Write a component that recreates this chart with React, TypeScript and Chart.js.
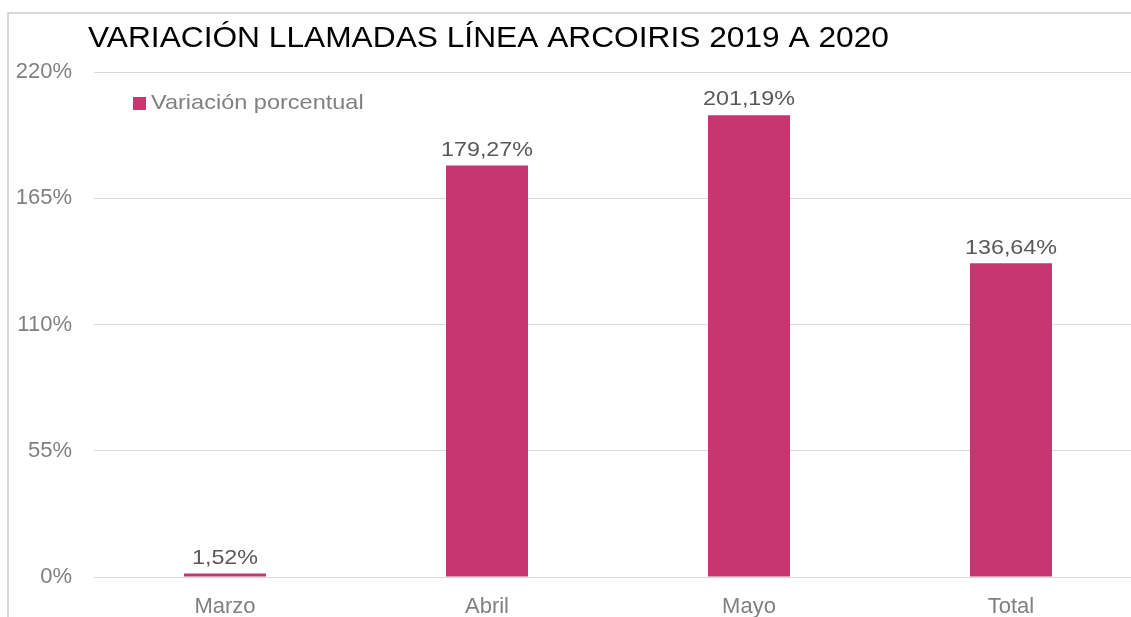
import React, { useEffect, useRef } from "react";
import { Chart, registerables } from "chart.js";

Chart.register(...registerables);

const titleText = "VARIACIÓN LLAMADAS LÍNEA ARCOIRIS 2019 A 2020";
const seriesName = "Variación porcentual";
const categories = ["Marzo", "Abril", "Mayo", "Total"];
const values = [1.52, 179.27, 201.19, 136.64];
const yTicks = [0, 55, 110, 165, 220];

const BAR = "#C83671";
const FONT = "'Liberation Sans', Arial, sans-serif";

const fmt = (v: number) => v.toFixed(2).replace(".", ",") + "%";

function stretchedText(ctx: any, text: string, x: number, y: number, sx: number, align: string) {
  ctx.save();
  ctx.translate(x, y);
  ctx.scale(sx, 1);
  ctx.textAlign = align;
  ctx.fillText(text, 0, 0);
  ctx.restore();
}

const overlay = {
  id: "overlay",
  beforeDraw(chart: any) {
    const ctx = chart.ctx;
    ctx.save();
    ctx.fillStyle = "#ffffff";
    ctx.fillRect(0, 0, chart.width, chart.height);
    ctx.strokeStyle = "#d9d9d9";
    ctx.lineWidth = 2;
    ctx.beginPath();
    ctx.moveTo(8, chart.height);
    ctx.lineTo(8, 13);
    ctx.lineTo(chart.width, 13);
    ctx.stroke();
    ctx.restore();
  },
  afterDatasetsDraw(chart: any) {
    const ctx = chart.ctx;
    const area = chart.chartArea;
    ctx.save();
    // title
    ctx.fillStyle = "#000000";
    ctx.font = `29px ${FONT}`;
    ctx.textBaseline = "alphabetic";
    stretchedText(ctx, titleText, area.left - 6, 47, 1.093, "left");
    // legend
    ctx.fillStyle = BAR;
    ctx.fillRect(area.left + 39, area.top + 25, 13, 13);
    ctx.fillStyle = "#808080";
    ctx.font = `21px ${FONT}`;
    ctx.textBaseline = "middle";
    stretchedText(ctx, seriesName, area.left + 57, area.top + 31, 1.12, "left");
    // data labels
    const meta = chart.getDatasetMeta(0);
    ctx.fillStyle = "#595959";
    ctx.font = `21px ${FONT}`;
    ctx.textBaseline = "bottom";
    meta.data.forEach((el: any, i: number) => {
      stretchedText(ctx, fmt(values[i]), el.x, el.y - 5, 1.11, "center");
    });
    ctx.restore();
  },
};

export default function App() {
  const ref = useRef<HTMLCanvasElement | null>(null);
  useEffect(() => {
    document.body.style.margin = "0";
    document.body.style.overflow = "hidden";
    const chart = new Chart(ref.current as HTMLCanvasElement, {
      type: "bar",
      data: {
        labels: categories,
        datasets: [
          {
            label: seriesName,
            data: values,
            backgroundColor: BAR,
            categoryPercentage: 1,
            barPercentage: 0.313,
          },
        ],
      },
      options: {
        animation: false,
        responsive: false,
        devicePixelRatio: 1,
        layout: { padding: { top: 72, left: 0, right: 18, bottom: 0 } },
        plugins: {
          legend: { display: false },
          title: { display: false },
          tooltip: { enabled: false },
        },
        scales: {
          x: {
            grid: { display: false, drawTicks: false },
            border: { display: false },
            ticks: {
              color: "#808080",
              font: { family: FONT, size: 22 },
              padding: 17,
            },
            afterFit: (s: any) => {
              s.height = 40;
            },
          },
          y: {
            min: 0,
            max: 220,
            afterBuildTicks: (s: any) => {
              s.ticks = yTicks.map((v) => ({ value: v }));
            },
            grid: { color: "#d9d9d9", lineWidth: 1, drawTicks: false },
            border: { display: false },
            ticks: {
              color: "#808080",
              font: { family: FONT, size: 22 },
              padding: 22,
              callback: (v: any) => `${v}%`,
            },
            afterFit: (s: any) => {
              s.width = 94;
            },
          },
        },
      },
      plugins: [overlay],
    });
    return () => chart.destroy();
  }, []);

  return (
    <div
      style={{
        position: "fixed",
        left: 0,
        top: 0,
        width: 1131,
        height: 617,
        overflow: "hidden",
        background: "#ffffff",
      }}
    >
      <canvas
        ref={ref}
        width={1160}
        height={617}
        style={{ position: "absolute", left: 0, top: 0, width: 1160, height: 617 }}
      />
    </div>
  );
}
